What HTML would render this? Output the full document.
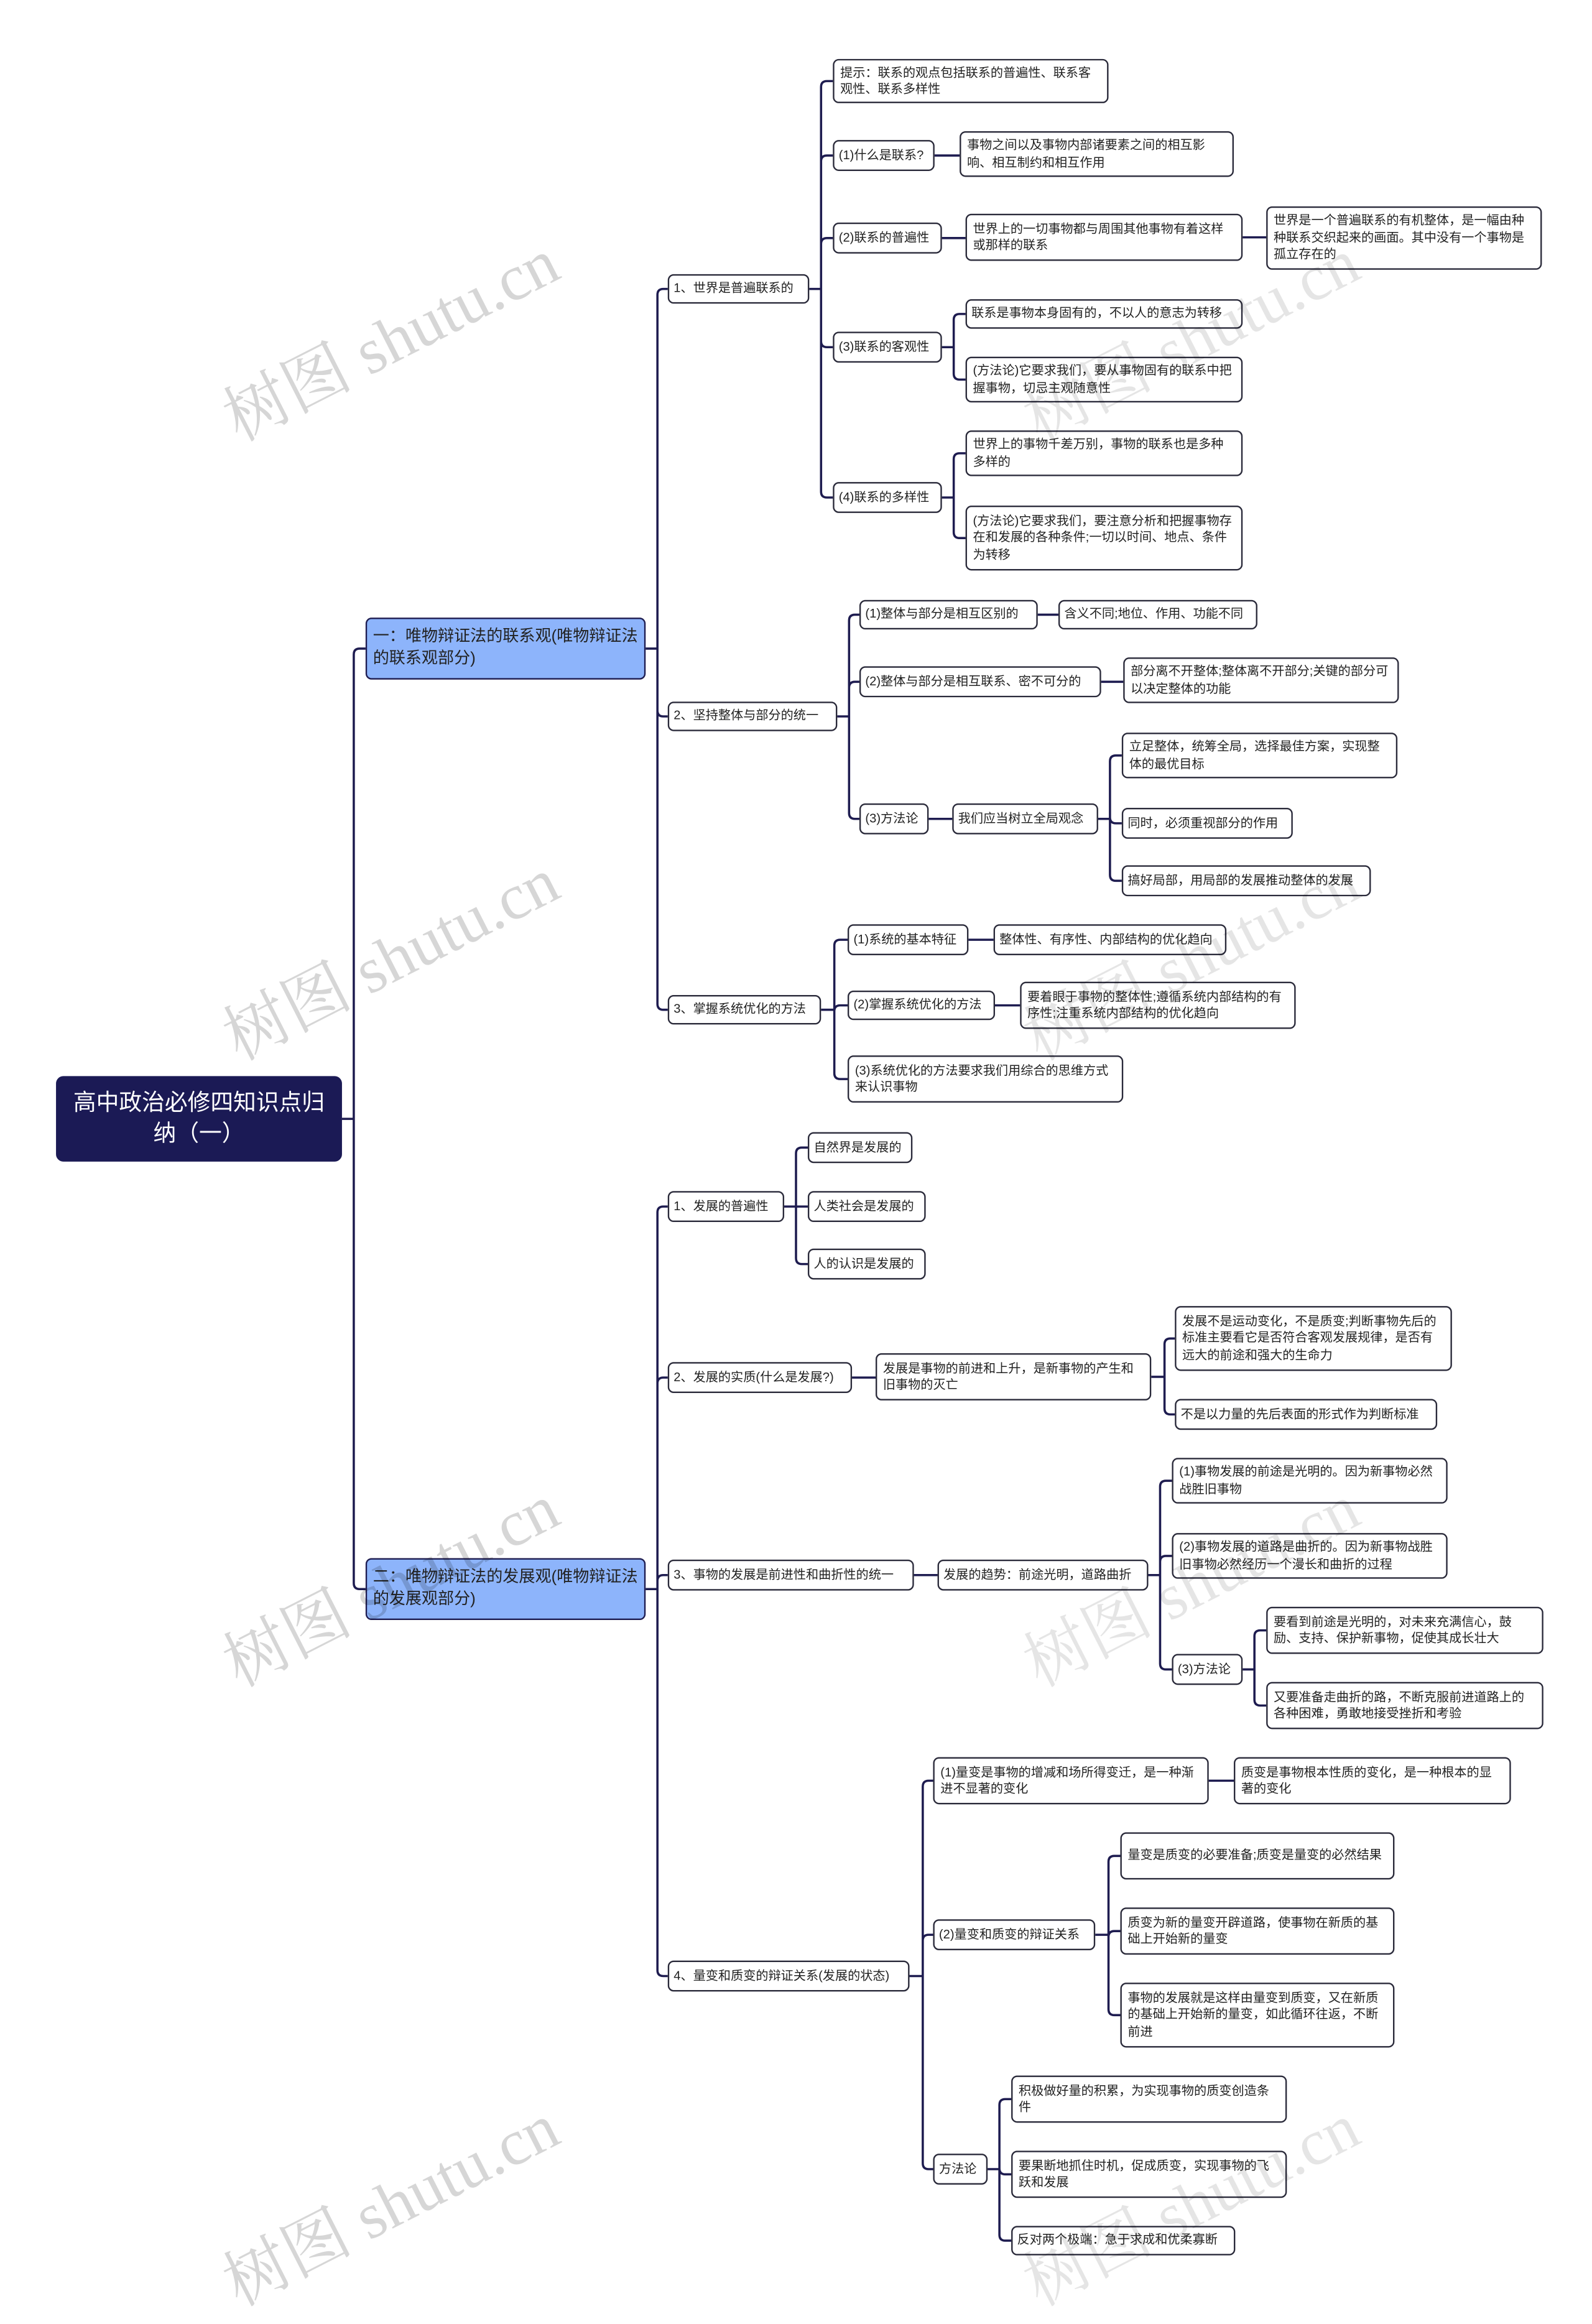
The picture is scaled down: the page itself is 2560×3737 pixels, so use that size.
<!DOCTYPE html>
<html><head><meta charset="utf-8">
<style>
html,body{margin:0;padding:0;background:#fff;}
body{width:2560px;height:3699px;overflow:hidden;position:relative;}
#s{position:absolute;left:0;top:0;width:1080px;height:1561px;transform:scale(2.37037);transform-origin:0 0;font-family:"Liberation Sans","Noto Sans CJK SC",sans-serif;}
.b{position:absolute;box-sizing:border-box;background:#fff;border:1px solid #2a2a3a;border-radius:4px;font-size:8.5px;line-height:11.5px;color:#222;padding:0 4px;display:flex;align-items:center;}
.n{white-space:nowrap;padding:0 3px;}
.l1{background:#8db4fb;border-color:#1e1c50;font-size:11px;line-height:15px;color:#222;}
.root{background:#1b1a55;border-color:#1b1a55;color:#fff;font-size:15.5px;line-height:21px;justify-content:center;text-align:center;border-radius:5px;}
.wm{position:absolute;font-family:"Liberation Serif","Noto Serif CJK SC",serif;font-size:44px;color:rgba(0,0,0,0.16);transform:rotate(-27deg);white-space:nowrap;transform-origin:center;}
svg{position:absolute;left:0;top:0;}
</style></head><body><div id="s">
<svg id="ln" width="1080" height="1561"></svg>

<div class="b root" id="root" style="left:38px;top:730px;width:194px;height:58px;">高中政治必修四知识点归纳（一）</div>
<div class="b l1" id="A" style="left:248px;top:419px;width:190px;height:42px;">一：唯物辩证法的联系观(唯物辩证法的联系观部分)</div>
<div class="b l1" id="B" style="left:248px;top:1057px;width:190px;height:42px;">二：唯物辩证法的发展观(唯物辩证法的发展观部分)</div>

<div class="b n" id="a1" style="left:453px;top:186px;width:96px;height:20px;">1、世界是普遍联系的</div>
<div class="b" id="t" style="left:565px;top:40px;width:187px;height:30px;">提示：联系的观点包括联系的普遍性、联系客观性、联系多样性</div>
<div class="b n" id="q1" style="left:565px;top:95px;width:69px;height:21px;">(1)什么是联系?</div>
<div class="b" id="q1c" style="left:651px;top:89px;width:186px;height:31px;">事物之间以及事物内部诸要素之间的相互影响、相互制约和相互作用</div>
<div class="b n" id="q2" style="left:565px;top:151px;width:74px;height:21px;">(2)联系的普遍性</div>
<div class="b" id="q2c" style="left:655px;top:145px;width:188px;height:32px;">世界上的一切事物都与周围其他事物有着这样或那样的联系</div>
<div class="b" id="q2cc" style="left:859px;top:140px;width:187px;height:43px;">世界是一个普遍联系的有机整体，是一幅由种种联系交织起来的画面。其中没有一个事物是孤立存在的</div>
<div class="b n" id="q3" style="left:565px;top:225px;width:74px;height:21px;">(3)联系的客观性</div>
<div class="b n" id="q3a" style="left:655px;top:203px;width:188px;height:20px;">联系是事物本身固有的，不以人的意志为转移</div>
<div class="b" id="q3b" style="left:655px;top:242px;width:188px;height:31px;">(方法论)它要求我们，要从事物固有的联系中把握事物，切忌主观随意性</div>
<div class="b n" id="q4" style="left:565px;top:327px;width:74px;height:21px;">(4)联系的多样性</div>
<div class="b" id="q4a" style="left:655px;top:292px;width:188px;height:31px;">世界上的事物千差万别，事物的联系也是多种多样的</div>
<div class="b" id="q4b" style="left:655px;top:343px;width:188px;height:44px;">(方法论)它要求我们，要注意分析和把握事物存在和发展的各种条件;一切以时间、地点、条件为转移</div>

<div class="b n" id="a2" style="left:453px;top:476px;width:115px;height:20px;">2、坚持整体与部分的统一</div>
<div class="b n" id="w1" style="left:583px;top:407px;width:121px;height:20px;">(1)整体与部分是相互区别的</div>
<div class="b n" id="w1c" style="left:718px;top:407px;width:135px;height:20px;">含义不同;地位、作用、功能不同</div>
<div class="b n" id="w2" style="left:583px;top:452px;width:164px;height:21px;">(2)整体与部分是相互联系、密不可分的</div>
<div class="b" id="w2c" style="left:762px;top:446px;width:187px;height:31px;">部分离不开整体;整体离不开部分;关键的部分可以决定整体的功能</div>
<div class="b n" id="w3" style="left:583px;top:545px;width:47px;height:21px;">(3)方法论</div>
<div class="b n" id="w3c" style="left:646px;top:545px;width:99px;height:21px;">我们应当树立全局观念</div>
<div class="b" id="w3c1" style="left:761px;top:497px;width:187px;height:31px;">立足整体，统筹全局，选择最佳方案，实现整体的最优目标</div>
<div class="b n" id="w3c2" style="left:761px;top:548px;width:116px;height:21px;">同时，必须重视部分的作用</div>
<div class="b n" id="w3c3" style="left:761px;top:587px;width:169px;height:21px;">搞好局部，用局部的发展推动整体的发展</div>

<div class="b n" id="a3" style="left:453px;top:675px;width:104px;height:20px;">3、掌握系统优化的方法</div>
<div class="b n" id="s1" style="left:575px;top:627px;width:82px;height:21px;">(1)系统的基本特征</div>
<div class="b n" id="s1c" style="left:674px;top:627px;width:158px;height:21px;">整体性、有序性、内部结构的优化趋向</div>
<div class="b n" id="s2" style="left:575px;top:672px;width:100px;height:20px;">(2)掌握系统优化的方法</div>
<div class="b" id="s2c" style="left:692px;top:666px;width:187px;height:32px;">要着眼于事物的整体性;遵循系统内部结构的有序性;注重系统内部结构的优化趋向</div>
<div class="b" id="s3" style="left:575px;top:716px;width:187px;height:32px;">(3)系统优化的方法要求我们用综合的思维方式来认识事物</div>

<div class="b n" id="b1" style="left:453px;top:808px;width:79px;height:21px;">1、发展的普遍性</div>
<div class="b n" id="b1a" style="left:548px;top:768px;width:71px;height:21px;">自然界是发展的</div>
<div class="b n" id="b1b" style="left:548px;top:808px;width:80px;height:21px;">人类社会是发展的</div>
<div class="b n" id="b1c" style="left:548px;top:847px;width:80px;height:21px;">人的认识是发展的</div>

<div class="b n" id="b2" style="left:453px;top:924px;width:125px;height:21px;">2、发展的实质(什么是发展?)</div>
<div class="b" id="b2c" style="left:594px;top:918px;width:187px;height:32px;">发展是事物的前进和上升，是新事物的产生和旧事物的灭亡</div>
<div class="b" id="b2c1" style="left:797px;top:886px;width:188px;height:44px;">发展不是运动变化，不是质变;判断事物先后的标准主要看它是否符合客观发展规律，是否有远大的前途和强大的生命力</div>
<div class="b n" id="b2c2" style="left:797px;top:949px;width:178px;height:21px;">不是以力量的先后表面的形式作为判断标准</div>

<div class="b n" id="b3" style="left:453px;top:1058px;width:167px;height:21px;">3、事物的发展是前进性和曲折性的统一</div>
<div class="b n" id="b3c" style="left:636px;top:1058px;width:143px;height:21px;">发展的趋势：前途光明，道路曲折</div>
<div class="b" id="b3c1" style="left:795px;top:989px;width:187px;height:31px;">(1)事物发展的前途是光明的。因为新事物必然战胜旧事物</div>
<div class="b" id="b3c2" style="left:795px;top:1040px;width:187px;height:31px;">(2)事物发展的道路是曲折的。因为新事物战胜旧事物必然经历一个漫长和曲折的过程</div>
<div class="b n" id="b3c3" style="left:795px;top:1122px;width:48px;height:21px;">(3)方法论</div>
<div class="b" id="m1" style="left:859px;top:1090px;width:188px;height:32px;">要看到前途是光明的，对未来充满信心，鼓励、支持、保护新事物，促使其成长壮大</div>
<div class="b" id="m2" style="left:859px;top:1141px;width:188px;height:32px;">又要准备走曲折的路，不断克服前进道路上的各种困难，勇敢地接受挫折和考验</div>

<div class="b n" id="b4" style="left:453px;top:1330px;width:164px;height:21px;">4、量变和质变的辩证关系(发展的状态)</div>
<div class="b" id="d1" style="left:633px;top:1192px;width:187px;height:32px;">(1)量变是事物的增减和场所得变迁，是一种渐进不显著的变化</div>
<div class="b" id="d1c" style="left:837px;top:1192px;width:188px;height:32px;">质变是事物根本性质的变化，是一种根本的显著的变化</div>
<div class="b n" id="d2" style="left:633px;top:1302px;width:110px;height:21px;">(2)量变和质变的辩证关系</div>
<div class="b" id="d2a" style="left:760px;top:1243px;width:186px;height:32px;">量变是质变的必要准备;质变是量变的必然结果</div>
<div class="b" id="d2b" style="left:760px;top:1294px;width:186px;height:32px;">质变为新的量变开辟道路，使事物在新质的基础上开始新的量变</div>
<div class="b" id="d2c" style="left:760px;top:1345px;width:186px;height:44px;">事物的发展就是这样由量变到质变，又在新质的基础上开始新的量变，如此循环往返，不断前进</div>
<div class="b n" id="d3" style="left:633px;top:1461px;width:37px;height:21px;">方法论</div>
<div class="b" id="e1" style="left:686px;top:1408px;width:187px;height:32px;">积极做好量的积累，为实现事物的质变创造条件</div>
<div class="b" id="e2" style="left:686px;top:1459px;width:187px;height:32px;">要果断地抓住时机，促成质变，实现事物的飞跃和发展</div>
<div class="b n" id="e3" style="left:686px;top:1510px;width:152px;height:20px;">反对两个极端：急于求成和优柔寡断</div>

<div class="wm" style="left:140px;top:195px;">树图 shutu.cn</div>
<div class="wm" style="left:140px;top:615px;">树图 shutu.cn</div>
<div class="wm" style="left:140px;top:1040px;">树图 shutu.cn</div>
<div class="wm" style="left:140px;top:1460px;">树图 shutu.cn</div>
<div class="wm" style="left:683px;top:195px;color:rgba(0,0,0,0.10)">树图 shutu.cn</div>
<div class="wm" style="left:683px;top:615px;color:rgba(0,0,0,0.10)">树图 shutu.cn</div>
<div class="wm" style="left:683px;top:1040px;color:rgba(0,0,0,0.10)">树图 shutu.cn</div>
<div class="wm" style="left:683px;top:1460px;color:rgba(0,0,0,0.10)">树图 shutu.cn</div>
</div>
<script>
(function(){
var C=[["root",["A","B"],240],["A",["a1","a2","a3"],446],["a1",["t","q1","q2","q3","q4"],557],["q1",["q1c"]],["q2",["q2c"]],["q2c",["q2cc"]],["q3",["q3a","q3b"],647],["q4",["q4a","q4b"],647],["a2",["w1","w2","w3"],576],["w1",["w1c"]],["w2",["w2c"]],["w3",["w3c"]],["w3c",["w3c1","w3c2","w3c3"],753],["a3",["s1","s2","s3"],566],["s1",["s1c"]],["s2",["s2c"]],["B",["b1","b2","b3","b4"],446],["b1",["b1a","b1b","b1c"],540],["b2",["b2c"]],["b2c",["b2c1","b2c2"],790],["b3",["b3c"]],["b3c",["b3c1","b3c2","b3c3"],787],["b3c3",["m1","m2"],851],["b4",["d1","d2","d3"],626],["d1",["d1c"]],["d2",["d2a","d2b","d2c"],752],["d3",["e1","e2","e3"],678]];
function g(id){var e=document.getElementById(id);return {l:e.offsetLeft,t:e.offsetTop,r:e.offsetLeft+e.offsetWidth,m:e.offsetTop+e.offsetHeight/2};}
var d="",r=4;
C.forEach(function(c){var p=g(c[0]);
 if(c[1].length==1){var k=g(c[1][0]);d+="M"+p.r+","+p.m+"H"+k.l;return;}
 var tx=c[2];d+="M"+p.r+","+p.m+"H"+tx;
 c[1].forEach(function(id){var k=g(id);var dy=k.m-p.m;
  if(Math.abs(dy)<1){d+="M"+tx+","+p.m+"H"+k.l;}
  else{var s=dy>0?1:-1;d+="M"+tx+","+p.m+"V"+(k.m-s*r)+"Q"+tx+","+k.m+" "+(tx+r)+","+k.m+"H"+k.l;}
 });
});
var svg=document.getElementById("ln");
var P=document.createElementNS("http://www.w3.org/2000/svg","path");
P.setAttribute("d",d);P.setAttribute("fill","none");P.setAttribute("stroke","#1e1c50");P.setAttribute("stroke-width","1.5");
svg.appendChild(P);
})();
</script>
</body></html>
